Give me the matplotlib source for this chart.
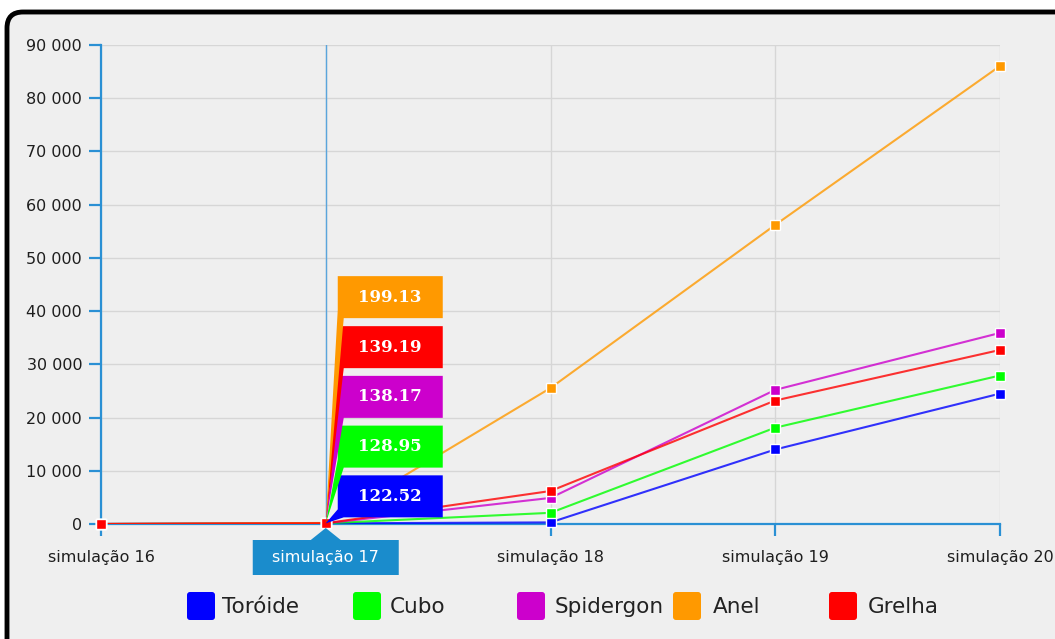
import matplotlib
matplotlib.use("Agg")
import matplotlib.pyplot as plt
import matplotlib.transforms as mtransforms
from matplotlib.patches import FancyBboxPatch, Polygon
from matplotlib.ticker import FuncFormatter

# dados das simulações
categorias = ["simulação 16", "simulação 17", "simulação 18", "simulação 19", "simulação 20"]
nomes = ["Toróide", "Cubo", "Spidergon", "Anel", "Grelha"]
toroide = [0, 122.52, 300, 14000, 24500]
cubo = [0, 128.95, 2100, 18100, 27900]
spidergon = [0, 138.17, 4900, 25200, 35900]
anel = [0, 199.13, 25550, 56200, 86060]
grelha = [0, 139.19, 6200, 23200, 32700]
valores = [toroide, cubo, spidergon, anel, grelha]
yticks = list(range(0, 90001, 10000))

cores = ["#0000ff", "#00ff00", "#cc00cc", "#ff9900", "#ff0000"]
azul_eixo = "#2a90d4"
ponto_sel = 1  # categoria com tooltip

W, H = 1055, 639
fig = plt.figure(figsize=(W / 100, H / 100), dpi=100)
fig.patch.set_facecolor("white")
ident = mtransforms.IdentityTransform()

# moldura arredondada
moldura = FancyBboxPatch((7, -40), W + 60, H - 12 + 40,
                         boxstyle="round,pad=0,rounding_size=16",
                         fc="#efefef", ec="black", lw=3.5,
                         transform=ident, zorder=-10)
fig.add_artist(moldura)

ax = fig.add_axes([101 / W, 115 / H, 899 / W, 479 / H])
ax.patch.set_alpha(0)
xs = list(range(len(categorias)))
ax.set_xlim(0, len(categorias) - 1)
ax.set_ylim(0, 90000)

for s in ["top", "right"]:
    ax.spines[s].set_visible(False)
for s in ["left", "bottom"]:
    ax.spines[s].set_color(azul_eixo)
    ax.spines[s].set_linewidth(1.6)

ax.set_yticks(yticks)
ax.yaxis.set_major_formatter(FuncFormatter(lambda v, p: f"{v:,.0f}".replace(",", " ")))
ax.set_xticks(xs)
ax.set_xticklabels(categorias)
ax.tick_params(axis="both", direction="out", length=8.5, width=1.6, color=azul_eixo,
               labelcolor="#1e1e1e", labelsize=11.5)
ax.tick_params(axis="x", pad=10)
ax.tick_params(axis="y", pad=5)
ax.xaxis.get_ticklabels()[ponto_sel].set_visible(False)

ax.grid(True, color="#d6d6d6", lw=1, zorder=0)
ax.set_axisbelow(True)
ax.axvline(ponto_sel, color="#5aa5dc", lw=1, zorder=1)

for nome, vals, cor in zip(nomes, valores, cores):
    ax.plot(xs, vals, color=cor, lw=1.5, alpha=0.8, zorder=3)
    ax.plot(xs, vals, ls="none", marker="s", ms=7.5, mfc=cor, mec="white", mew=1,
            zorder=4, clip_on=False)

fig.canvas.draw()

# tooltips empilhados na categoria selecionada
ordem = sorted(range(len(nomes)), key=lambda i: valores[i][ponto_sel])
for k, i in enumerate(ordem):
    v = valores[i][ponto_sel]
    ax0, ay0 = ax.transData.transform((ponto_sel, v))
    y0 = ay0 + 6 + k * 49.7
    y1 = y0 + 42
    x0, x1 = ax0 + 12, ax0 + 117
    tip = Polygon([(ax0, ay0), (x0, y0 + 8), (x0, y1), (x1, y1), (x1, y0), (x0 + 6, y0)],
                  closed=True, fc=cores[i], ec="none", transform=ident, zorder=6)
    fig.add_artist(tip)
    fig.text((x0 + x1) / 2 / W, (y0 + y1) / 2 / H, f"{v:.2f}", color="white",
             fontsize=12, fontweight="bold", family="DejaVu Serif",
             ha="center", va="center", zorder=7)

# rótulo destacado da categoria
cx, cy = ax.transData.transform((ponto_sel, 0))
rot = Polygon([(cx, cy - 4), (cx + 15, cy - 16), (cx + 73, cy - 16), (cx + 73, cy - 51),
               (cx - 73, cy - 51), (cx - 73, cy - 16), (cx - 15, cy - 16)],
              closed=True, fc="#1a8ccc", ec="none", transform=ident, zorder=6)
fig.add_artist(rot)
fig.text(cx / W, (cy - 33.5) / H, categorias[ponto_sel], color="white", fontsize=11.5,
         ha="center", va="center", zorder=7)

# legenda
leg_quad = [187, 353, 517, 673, 829]
leg_txt = [222, 390, 555, 713, 868]
for nome, cor, qx, tx in zip(nomes, cores, leg_quad, leg_txt):
    q = FancyBboxPatch((qx, 19), 28, 28, boxstyle="round,pad=0,rounding_size=3",
                       fc=cor, ec="none", transform=ident, zorder=5)
    fig.add_artist(q)
    fig.text(tx / W, 32 / H, nome, color="#222222", fontsize=15.5, ha="left", va="center")

fig.savefig("out.png", dpi=100, facecolor="white")
